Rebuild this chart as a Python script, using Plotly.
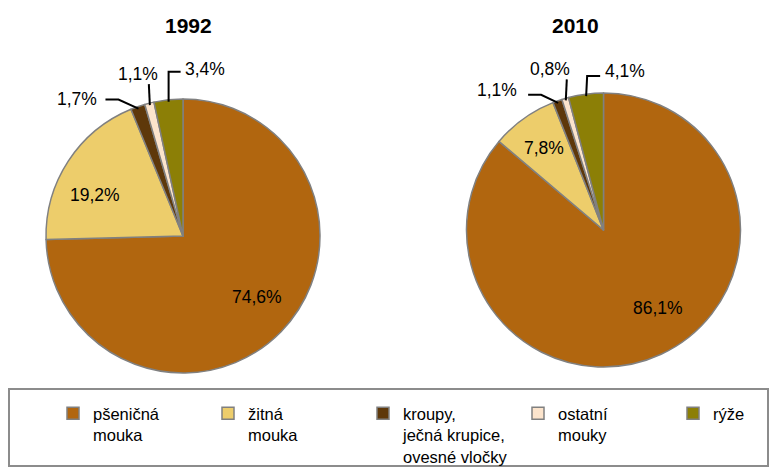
import math
import plotly.graph_objects as go

# ---------------- data ----------------
categories = [
    "pšeničná<br>mouka",
    "žitná<br>mouka",
    "kroupy,<br>ječná krupice,<br>ovesné vločky",
    "ostatní<br>mouky",
    "rýže",
]
years = ["1992", "2010"]
values_1992 = [74.6, 19.2, 1.7, 1.1, 3.4]
values_2010 = [86.1, 7.8, 1.1, 0.8, 4.1]

# ---------------- style / layout ----------------
W, H = 775, 469
colors = ["#B1660F", "#EDCD6B", "#5E380A", "#FCE4CC", "#8C7F06"]
FONT = "Liberation Sans, Arial, sans-serif"
R = 137
pie_centers = [(183, 236), (603.5, 230)]
title_pos = [(188, 25), (575, 25)]
# inside labels: (slice index, radius fraction, angle nudge in degrees)
inside_style = [
    [(0, 0.70, -5), (1, 0.71, -8)],
    [(0, 0.69, -10), (1, 0.74, 0)],
]
# outside labels: (slice index, elbow dx, elbow dy, tail dx, text dx, text dy, xanchor)
leader_style = [
    [(2, -20, -9, -13, -6, -1, "right"),
     (3, -1, -21, 0, -11, -10, "center"),
     (4, 0, -30, 12, 2, -3, "left")],
    [(2, -17, -8, -13, -9, -5, "right"),
     (3, 1, -21, 0, -17, -10, "center"),
     (4, 1, -20, 13, 3, -5, "left")],
]


def fx(x):
    return x / W


def fy(y):
    return 1 - y / H


def fmt(v):
    return f"{v:.1f}".replace(".", ",") + "%"


def mid_angles(vals):
    tot = sum(vals)
    out, cum = [], 0.0
    for v in vals:
        out.append((cum + v / 2) / tot * 360.0)
        cum += v
    return out


fig = go.Figure()
annotations = []
shapes = []

for k, (vals, year) in enumerate(zip([values_1992, values_2010], years)):
    cx, cy = pie_centers[k]
    fig.add_trace(go.Pie(
        labels=categories,
        values=vals,
        sort=False,
        direction="clockwise",
        rotation=0,
        marker=dict(colors=colors, line=dict(color="#808080", width=1.5)),
        textinfo="none",
        hoverinfo="label+percent",
        name=year,
        domain=dict(x=[fx(cx - R), fx(cx + R)], y=[fy(cy + R), fy(cy - R)]),
    ))
    mids = mid_angles(vals)

    # title
    tx, ty = title_pos[k]
    annotations.append(dict(
        x=fx(tx), y=fy(ty), xref="paper", yref="paper", text=f"<b>{year}</b>",
        showarrow=False, font=dict(family=FONT, size=21, color="black"),
        xanchor="center", yanchor="middle"))

    # inside labels
    for idx, frac, nudge in inside_style[k]:
        a = math.radians(mids[idx] + nudge)
        x = cx + frac * R * math.sin(a)
        y = cy - frac * R * math.cos(a)
        annotations.append(dict(
            x=fx(x), y=fy(y), xref="paper", yref="paper", text=fmt(vals[idx]),
            showarrow=False, font=dict(family=FONT, size=17.5, color="black"),
            xanchor="center", yanchor="middle"))

    # outside labels with leader lines
    for idx, edx, edy, tdx, txd, tyd, xa in leader_style[k]:
        a = math.radians(mids[idx])
        ax = cx + (R - 2) * math.sin(a)
        ay = cy - (R - 2) * math.cos(a)
        ex, ey = ax + edx, ay + edy
        sx, sy = ex + tdx, ey
        path = f"M {fx(ax)} {fy(ay)} L {fx(ex)} {fy(ey)} L {fx(sx)} {fy(sy)}"
        shapes.append(dict(type="path", xref="paper", yref="paper", path=path,
                           line=dict(color="black", width=2)))
        annotations.append(dict(
            x=fx(sx + txd), y=fy(sy + tyd), xref="paper", yref="paper",
            text=fmt(vals[idx]), showarrow=False,
            font=dict(family=FONT, size=17.5, color="black"),
            xanchor=xa, yanchor="middle"))

# legend frame
shapes.append(dict(type="rect", xref="paper", yref="paper",
                   x0=fx(9), x1=fx(768), y0=fy(466), y1=fy(389),
                   line=dict(color="#8C8C8C", width=2), fillcolor="rgba(0,0,0,0)"))

fig.update_layout(
    width=W, height=H,
    margin=dict(l=0, r=0, t=0, b=0, autoexpand=False),
    paper_bgcolor="white", plot_bgcolor="white",
    font=dict(family=FONT, size=17.5, color="black"),
    showlegend=True,
    legend=dict(
        orientation="h", x=fx(53), y=fy(396), xanchor="left", yanchor="top",
        entrywidth=110, entrywidthmode="pixels", valign="top",
        font=dict(family=FONT, size=16.5, color="black"),
        bgcolor="rgba(0,0,0,0)", borderwidth=0,
    ),
    annotations=annotations,
    shapes=shapes,
)

fig.write_html(
    "out.html",
    config={"displayModeBar": False},
    post_script="document.body.style.margin='0px';document.body.style.overflow='hidden';",
)
